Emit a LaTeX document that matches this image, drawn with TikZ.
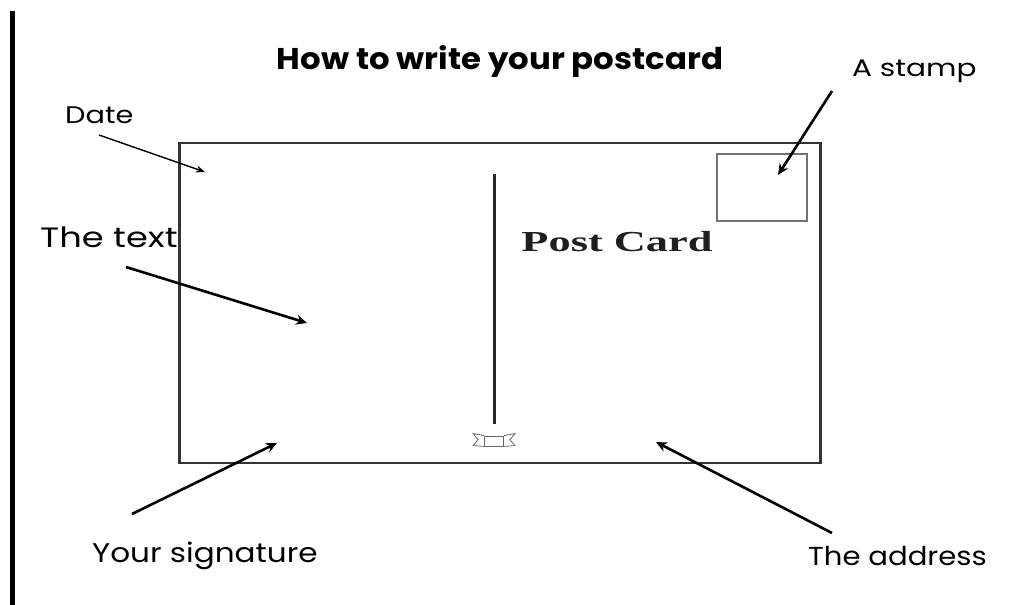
\documentclass[tikz,border=0pt]{standalone}
\usepackage{fontspec}
\usepackage{graphicx}
\setmainfont{Poppins}
\newfontfamily\cardfont{Liberation Serif}
\usetikzlibrary{arrows.meta}
\newcommand{\hs}[2]{\scalebox{#1}[1]{#2}}
\begin{document}
\begin{tikzpicture}[x=1pt,y=-1pt,
  lbl/.style={inner sep=0pt,anchor=base west},
  thinarrow/.style={line width=1.4pt,-{Stealth[length=9pt,width=7pt]}},
  thickarrow/.style={line width=2.6pt,-{Stealth[length=11pt,width=10pt]}},
  cardline/.style={line width=2.6pt,draw=black!80}]
\useasboundingbox (0,0) rectangle (1031,605);
% left bar
\fill[black] (10,11) rectangle (15,605);
% title
\node[inner sep=0pt,anchor=base,font=\bfseries\fontsize{30}{34}\selectfont] (title) at (500,69) {\hs{1.08}{How to write your postcard}};
% card
\node[cardline,draw,minimum width=641pt,minimum height=320pt,inner sep=0pt] (card) at (500,303) {};
\node[draw=black!55,line width=1.6pt,minimum width=90pt,minimum height=67pt,inner sep=0pt] (stampbox) at (762,187.5) {};
\coordinate (divtop) at (494,174);
\coordinate (divbot) at (494,424);
\draw[line width=3pt,black!85] (divtop) -- (divbot);
\node[inner sep=0pt,anchor=base,font=\cardfont\bfseries\fontsize{29}{34}\selectfont,text=black!88] (pc) at (617,251) {\hs{1.53}{Post Card}};
% ribbon icon
\node[draw=black!60,line width=0.8pt,minimum width=19pt,minimum height=10pt,inner sep=0pt] (ribbon) at (494,441) {};
\draw[black!60,line width=0.8pt] (ribbon.north west) -- ++(-11,-2) -- ++(5,6) -- ++(-5,6) -- (ribbon.south west);
\draw[black!60,line width=0.8pt] (ribbon.north east) -- ++(11,-2) -- ++(-5,6) -- ++(5,6) -- (ribbon.south east);
% labels
\node[lbl,font=\fontsize{24}{28}\selectfont] (date) at (65,123) {\hs{1.2}{Date}};
\node[lbl,font=\fontsize{24}{28}\selectfont] (stamp) at (852,76) {\hs{1.23}{A stamp}};
\node[lbl,font=\fontsize{28}{32}\selectfont] (text) at (40,247) {\hs{1.26}{The text}};
\node[lbl,font=\fontsize{27}{31}\selectfont] (sig) at (92,562) {\hs{1.15}{Your signature}};
\node[lbl,font=\fontsize{26}{30}\selectfont] (addr) at (808,565) {\hs{1.12}{The address}};
% arrow endpoints
\coordinate (dateS) at (99,135);   \coordinate (dateT) at (205,172);
\coordinate (textS) at (126,267);  \coordinate (textT) at (307,323);
\coordinate (stampS) at (832,91);  \coordinate (stampT) at (778,175);
\coordinate (sigS) at (132,514);   \coordinate (sigT) at (277,443);
\coordinate (addrS) at (832,533);  \coordinate (addrT) at (656,442);
\draw[thinarrow] (dateS) -- (dateT);
\draw[thickarrow] (textS) -- (textT);
\draw[thickarrow] (stampS) -- (stampT);
\draw[thickarrow] (sigS) -- (sigT);
\draw[thickarrow] (addrS) -- (addrT);
\end{tikzpicture}
\end{document}
